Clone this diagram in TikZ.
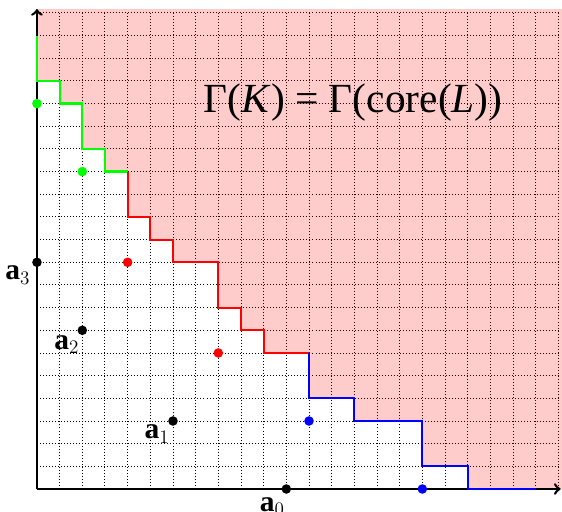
\documentclass[tikz,border=0pt]{standalone}
\usepackage{fontspec}
\setmainfont{Liberation Serif}
\usepackage{tikz}
\usetikzlibrary{positioning}
\definecolor{StairGreen}{HTML}{00FF00}
\definecolor{StairRed}{HTML}{FF0000}
\definecolor{StairBlue}{HTML}{0000FF}
\definecolor{RegionPink}{HTML}{FF0000}
\tikzset{
  griddots/.style={step=0.5cm, dash pattern=on 0.6pt off 1.3pt, line width=0.6pt, black},
  region/.style={fill=RegionPink, fill opacity=0.2, draw=none},
  stair/.style={line width=1.4pt, line join=miter},
  axis/.style={->, line width=1.6pt, black},
  dot/.style={circle, fill=black, inner sep=0pt, minimum size=6pt},
  lab/.style={font=\fontsize{18.5}{22}\selectfont, inner sep=0.5pt},
  figtitle/.style={font=\fontsize{26}{30}\selectfont, inner sep=0pt},
}

\begin{document}
\begin{tikzpicture}[x=0.5cm, y=0.5cm]
  \useasboundingbox (-1.63,-1.01) rectangle (23.16,21.57);

  % ---- Lattice ----
  \draw[griddots] (0,0) grid (23,21);

  % ---- Region above the staircase ----
  \fill[region] (0,21.17) -- (0,18) -- (1,18) -- (1,17) -- (2,17) -- (2,15)
    -- (3,15) -- (3,14) -- (4,14) -- (4,12) -- (5,12) -- (5,11) -- (6,11)
    -- (6,10) -- (8,10) -- (8,8) -- (9,8) -- (9,7) -- (10,7) -- (10,6)
    -- (12,6) -- (12,4) -- (14,4) -- (14,3) -- (17,3) -- (17,1) -- (19,1)
    -- (19,0) -- (23.16,0) -- (23.16,21.17) -- cycle;

  % ---- Axes ----
  \coordinate (O)    at (0,0);
  \coordinate (xend) at (23.1,0);
  \coordinate (yend) at (0,21.17);
  \draw[axis] (O) -- (xend);
  \draw[axis] (O) -- (yend);

  % ---- Staircase ----
  \draw[stair, StairGreen] (0,20) -- (0,18) -- (1,18) -- (1,17) -- (2,17)
    -- (2,15) -- (3,15) -- (3,14) -- (4,14);
  \draw[stair, StairRed] (4,14) -- (4,12) -- (5,12) -- (5,11) -- (6,11)
    -- (6,10) -- (8,10) -- (8,8) -- (9,8) -- (9,7) -- (10,7) -- (10,6) -- (12,6);
  \draw[stair, StairBlue] (12,6) -- (12,4) -- (14,4) -- (14,3) -- (17,3)
    -- (17,1) -- (19,1) -- (19,0) -- (22,0);

  % ---- Points ----
  \node[dot, fill=StairGreen] (g1) at (0,17) {};
  \node[dot, fill=StairGreen] (g2) at (2,14) {};
  \node[dot, fill=StairRed]   (r1) at (4,10) {};
  \node[dot, fill=StairRed]   (r2) at (8,6)  {};
  \node[dot, fill=StairBlue]  (b1) at (12,3) {};
  \node[dot, fill=StairBlue]  (b2) at (17,0) {};
  \node[dot] (a3) at (0,10) {};
  \node[dot] (a2) at (2,7)  {};
  \node[dot] (a1) at (6,3)  {};
  \node[dot] (a0) at (11,0) {};

  % ---- Labels ----
  \node[lab, below left=-0.6pt and 1.3pt of a3] {$\mathbf{a}_3$};
  \node[lab, below left=0.5pt and -1pt of a2]   {$\mathbf{a}_2$};
  \node[lab, below left=-0.4pt and -0.8pt of a1] {$\mathbf{a}_1$};
  \node[lab, below left=2.4pt and -2pt of a0]   {$\mathbf{a}_0$};

  \node[figtitle] (title) at (13.95,17.05) {Γ(\textit{K}) = Γ(core(\textit{L}))};

\end{tikzpicture}
\end{document}
